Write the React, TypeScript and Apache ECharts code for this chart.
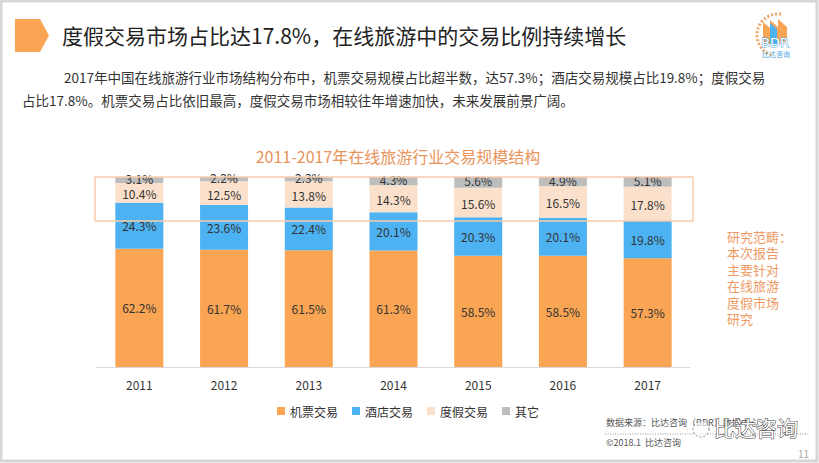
import React, { useEffect, useRef } from "react";
import * as echarts from "echarts";

const years = ["2011", "2012", "2013", "2014", "2015", "2016", "2017"];
const seriesNames = ["机票交易", "酒店交易", "度假交易", "其它"];
const flight = [62.2, 61.7, 61.5, 61.3, 58.5, 58.5, 57.3];
const hotel = [24.3, 23.6, 22.4, 20.1, 20.3, 20.1, 19.8];
const vacation = [10.4, 12.5, 13.8, 14.3, 15.6, 16.5, 17.8];
const other = [3.1, 2.2, 2.3, 4.3, 5.6, 4.9, 5.1];
const colors = ["#F9A553", "#4DB2F2", "#FBE1CC", "#BDBDBD"];

const headline = "度假交易市场占比达17.8%，在线旅游中的交易比例持续增长";
const para1 = "2017年中国在线旅游行业市场结构分布中，机票交易规模占比超半数，达57.3%；酒店交易规模占比19.8%；度假交易";
const para2 = "占比17.8%。机票交易占比依旧最高，度假交易市场相较往年增速加快，未来发展前景广阔。";
const chartTitle = "2011-2017年在线旅游行业交易规模结构";
const sideNoteLines = ["研究范畴：", "本次报告", "主要针对", "在线旅游", "度假市场", "研究"];
const source = "数据来源：比达咨询（BDR）数据中心";
const copyright = "©2018.1  比达咨询";

const FONT = '"Noto Sans CJK SC", "Noto Sans", sans-serif';

export default function App() {
  const ref = useRef<HTMLDivElement>(null);
  useEffect(() => {
    if (!ref.current) return;
    const chart = echarts.init(ref.current, null, { renderer: "svg" });
    const data = [flight, hotel, vacation, other];
    const sideTexts = sideNoteLines.map((t, i) => ({
      type: "text",
      x: 727,
      y: 236 + i * 16.5,
      style: { text: t, fill: "#EF9A64", fontSize: 13, fontFamily: FONT, textVerticalAlign: "middle" },
    }));
    chart.setOption({
      animation: false,
      backgroundColor: "#ffffff",
      textStyle: { fontFamily: FONT },
      title: {
        text: chartTitle,
        left: 393,
        top: 143,
        textAlign: "center",
        textStyle: { color: "#E8945C", fontSize: 16, fontWeight: "normal", fontFamily: FONT },
      },
      legend: {
        data: seriesNames,
        left: 272,
        top: 400,
        icon: "rect",
        itemWidth: 8,
        itemHeight: 8,
        itemGap: 14,
        textStyle: { color: "#333", fontSize: 12, fontFamily: FONT },
      },
      grid: { left: 97, right: 129, top: 177, bottom: 96 },
      xAxis: {
        type: "category",
        data: years,
        axisLine: { lineStyle: { color: "#d9d9d9" } },
        axisTick: { show: false },
        axisLabel: { color: "#333", fontSize: 12, margin: 11, fontFamily: FONT },
      },
      yAxis: { type: "value", min: 0, max: 100, show: false },
      series: seriesNames.map((name, i) => ({
        name,
        type: "bar",
        stack: "total",
        barWidth: 48,
        data: data[i],
        itemStyle: { color: colors[i] },
        label: {
          show: true,
          position: "inside",
          color: "#333",
          fontSize: 12,
          fontFamily: FONT,
          offset: i === 3 ? [0, -1.5] : i === 2 ? [0, 1] : [0, 0],
          formatter: (p: any) => p.value.toFixed(1) + "%",
        },
      })),
      graphic: [
        { type: "rect", shape: { x: 1, y: 1, width: 816, height: 460 }, style: { fill: "none", stroke: "#d6d6d6", lineWidth: 3 }, silent: true },
        { type: "polygon", shape: { points: [[15, 19], [40, 19], [49, 35.5], [40, 52], [15, 52]] }, style: { fill: "#F9A553" } },
        { type: "text", x: 62, y: 35, style: { text: headline, fill: "#222", fontSize: 21, fontFamily: FONT, textVerticalAlign: "middle" } },
        { type: "text", x: 64, y: 77, style: { text: para1, fill: "#333", fontSize: 13.5, fontFamily: FONT, textVerticalAlign: "middle" } },
        { type: "text", x: 22, y: 100, style: { text: para2, fill: "#333", fontSize: 13.5, fontFamily: FONT, textVerticalAlign: "middle" } },
        // logo
        { type: "arc", shape: { cx: 778, cy: 35, r: 21, startAngle: Math.PI * 0.6, endAngle: Math.PI * 1.55 }, style: { fill: "none", stroke: "#F4A460", lineWidth: 3, lineDash: [2, 2] } },
        { type: "polygon", shape: { points: [[763, 44], [763, 22], [770, 28], [770, 20], [778, 27], [778, 19], [787, 27], [787, 44]] }, style: { fill: "#F9A553" } },
        { type: "polygon", shape: { points: [[770, 44], [770, 23], [777, 29], [777, 44]] }, style: { fill: "#4DB2F2" } },
        { type: "text", x: 775, y: 42, style: { text: "BDR", fill: "#fff", stroke: "#4DA6E0", lineWidth: 1, fontSize: 13, fontFamily: "DejaVu Sans", textAlign: "center", textVerticalAlign: "middle" } },
        { type: "text", x: 776, y: 54, style: { text: "比达咨询", fill: "#4DA6E0", fontSize: 7, fontFamily: FONT, textAlign: "center", textVerticalAlign: "middle" } },
        // highlight box
        { type: "rect", z: 100, shape: { x: 95, y: 177, width: 598, height: 44 }, style: { fill: "none", stroke: "#F8CBAA", lineWidth: 1.5 }, silent: true },
        ...sideTexts,
        { type: "text", x: 606, y: 422, style: { text: source, fill: "#555", fontSize: 9, fontFamily: FONT, textVerticalAlign: "middle" } },
        { type: "line", shape: { x1: 605, y1: 434, x2: 808, y2: 434 }, style: { stroke: "#777", lineWidth: 0.8, lineDash: [1, 1.5] } },
        { type: "text", x: 606, y: 442, style: { text: copyright, fill: "#555", fontSize: 9, fontFamily: FONT, textVerticalAlign: "middle" } },
        { type: "circle", shape: { cx: 701, cy: 429, r: 8 }, style: { fill: "rgba(255,255,255,0.6)", stroke: "#666", lineWidth: 0.8, lineDash: [2, 2] } },
        { type: "text", x: 714, y: 427, style: { text: "比达咨询", fill: "#fff", stroke: "#333", lineWidth: 1, fontSize: 21, fontFamily: FONT, textVerticalAlign: "middle" } },
        { type: "text", x: 798, y: 453, style: { text: "11", fill: "#aaa", fontSize: 10, fontFamily: FONT, textVerticalAlign: "middle" } },
      ],
    });
    return () => chart.dispose();
  }, []);
  return <div ref={ref} style={{ position: "absolute", left: 0, top: 0, width: 819, height: 463 }} />;
}
